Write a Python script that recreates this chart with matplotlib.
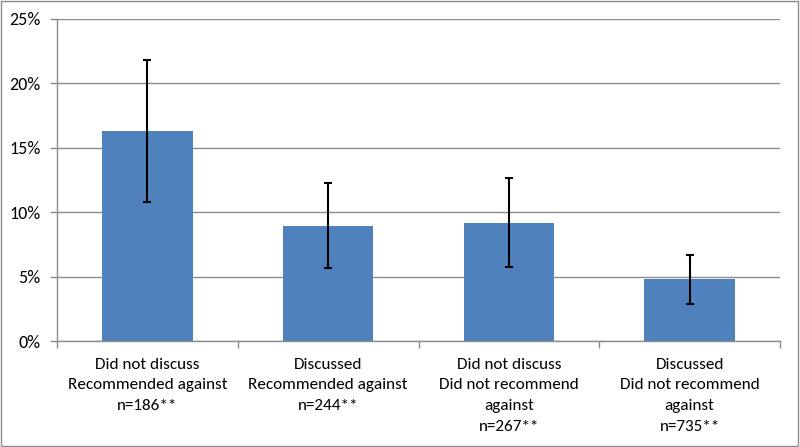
import matplotlib as mpl
mpl.use("Agg")
import matplotlib.pyplot as plt
import numpy as np
from matplotlib.ticker import PercentFormatter, FixedLocator

plt.rcParams["font.family"] = ["Carlito", "Lato", "DejaVu Sans"]

# ── Data ─────────────────────────────────────────────────────────────────────
categories = [
    "Did not discuss\nRecommended against\nn=186**",
    "Discussed\nRecommended against\nn=244**",
    "Did not discuss\nDid not recommend\nagainst\nn=267**",
    "Discussed\nDid not recommend\nagainst\nn=735**",
]
values = [16.3, 8.95, 9.2, 4.8]
err_low = [10.8, 5.67, 5.75, 2.9]
err_high = [21.8, 12.3, 12.65, 6.7]

# ── Plot ─────────────────────────────────────────────────────────────────────
fig = plt.figure(figsize=(8, 4.47), dpi=100)
ax = fig.add_axes([0.07125, 0.237, 0.90375, 0.7205])

x = np.arange(len(categories))
yerr = np.array([np.subtract(values, err_low), np.subtract(err_high, values)])
ax.bar(x, values, width=0.5, color="#4F81BD", zorder=2)
ax.errorbar(x, values, yerr=yerr, fmt="none", ecolor="black",
            elinewidth=1.5, capsize=2.6, capthick=1.5, zorder=3)

ax.set_xlim(-0.5, len(categories) - 0.5)
ax.set_ylim(0, 25)
ax.set_yticks(np.arange(0, 26, 5))
ax.yaxis.set_major_formatter(PercentFormatter(decimals=0))
ax.yaxis.grid(True, color="#8c8c8c", linewidth=1.0, zorder=0)
ax.set_axisbelow(True)

# category labels centered, ticks on category boundaries
ax.set_xticks(x)
ax.set_xticklabels(categories, fontsize=12.3)
for lbl in ax.get_xticklabels():
    lbl.set_linespacing(1.6)
ax.tick_params(axis="x", length=0, pad=12)
ax.xaxis.set_minor_locator(FixedLocator(np.arange(-0.5, len(categories), 1.0)))
ax.tick_params(axis="x", which="minor", length=5, color="#8c8c8c", width=1.0)
ax.tick_params(axis="y", length=5, color="#8c8c8c", width=1.0, labelsize=13, pad=7)

for side in ("top", "right"):
    ax.spines[side].set_visible(False)
for side in ("left", "bottom"):
    ax.spines[side].set_color("#8c8c8c")
    ax.spines[side].set_linewidth(1.0)

# outer chart border
fig.patches.append(plt.Rectangle((0.001, 0.002), 0.997, 0.996, transform=fig.transFigure,
                                 fill=False, edgecolor="#8c8c8c", linewidth=1.0))

fig.savefig("out.png", dpi=100)
